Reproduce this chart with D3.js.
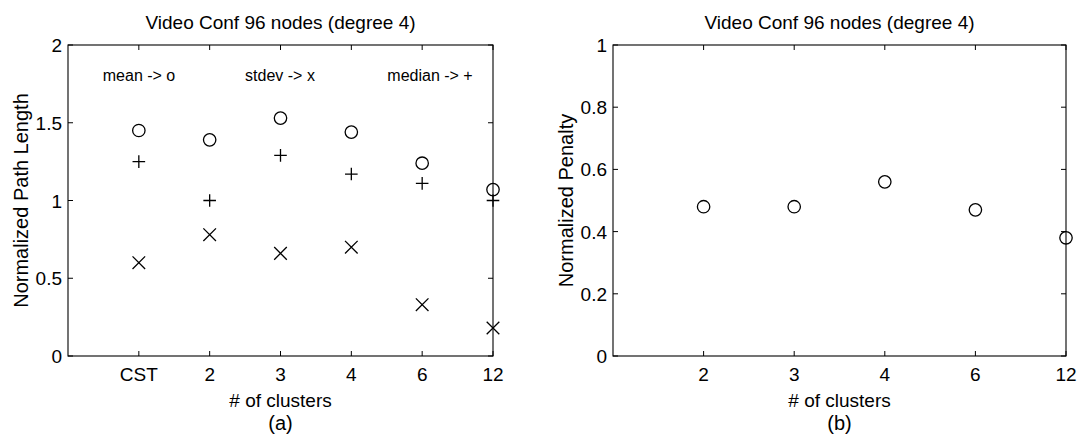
<!DOCTYPE html>
<html><head><meta charset="utf-8">
<script src="https://cdn.jsdelivr.net/npm/d3@7"></script>
<style>html,body{margin:0;padding:0;background:#fff;}svg{display:block;}text{font-family:"Liberation Sans",Arial,Helvetica,sans-serif;fill:#000;}</style>
</head><body>
<svg id="c" width="1082" height="436"></svg>
<script>
// ---- data ----
const categoriesA = ["CST", "2", "3", "4", "6", "12"];
const meanA   = [1.45, 1.39, 1.53, 1.44, 1.24, 1.07];
const medianA = [1.25, 1.00, 1.29, 1.17, 1.11, 1.00];
const stdevA  = [0.60, 0.78, 0.66, 0.70, 0.33, 0.18];
const yTicksA = [0, 0.5, 1, 1.5, 2];
const yTickLabelsA = ["0", "0.5", "1", "1.5", "2"];

const categoriesB = ["2", "3", "4", "6", "12"];
const penaltyB = [0.48, 0.48, 0.56, 0.47, 0.38];
const yTicksB = [0, 0.2, 0.4, 0.6, 0.8, 1];
const yTickLabelsB = ["0", "0.2", "0.4", "0.6", "0.8", "1"];

const titleText = "Video Conf 96 nodes (degree 4)";
const xLabelText = "# of clusters";
const annotations = ["mean -> o", "stdev -> x", "median -> +"];

// ---- drawing ----
const svg = d3.select("#c");

function txt(g, x, y, s, size, anchor, rot) {
  return g.append("text")
    .attr("transform", `translate(${x},${y}) rotate(${rot||0})`)
    .attr("font-size", size)
    .attr("text-anchor", anchor || "middle")
    .text(s);
}

function panel(opt) {
  const g = svg.append("g");
  const {left, right, top, bottom} = opt;
  const n = opt.categories.length;
  const x = d3.scaleLinear().domain([0, n]).range([left, right]);
  const y = d3.scaleLinear().domain(opt.yDomain).range([bottom, top]);
  const tl = 5;

  g.append("rect").attr("x", left).attr("y", top)
    .attr("width", right - left).attr("height", bottom - top)
    .attr("fill", "none").attr("stroke", "#000").attr("stroke-width", 1.1);

  opt.yTicks.forEach((v, i) => {
    const yy = y(v);
    g.append("line").attr("x1", left).attr("x2", left + tl).attr("y1", yy).attr("y2", yy).attr("stroke", "#000");
    g.append("line").attr("x1", right).attr("x2", right - tl).attr("y1", yy).attr("y2", yy).attr("stroke", "#000");
    txt(g, left - 6, yy + 7, opt.yTickLabels[i], 19, "end");
  });
  opt.categories.forEach((c, i) => {
    const xx = x(i + 1);
    g.append("line").attr("x1", xx).attr("x2", xx).attr("y1", bottom).attr("y2", bottom - tl).attr("stroke", "#000");
    g.append("line").attr("x1", xx).attr("x2", xx).attr("y1", top).attr("y2", top + tl).attr("stroke", "#000");
    txt(g, xx, 381, c, 19, "middle");
  });

  const cx = (left + right) / 2;
  txt(g, cx, 29, titleText, 19, "middle");
  txt(g, cx, 407, xLabelText, 19, "middle");
  txt(g, cx, 430, opt.tag, 20, "middle");
  txt(g, opt.ylabX, (top + bottom) / 2, opt.ylabel, 20, "middle", -90);

  return {g, x, y};
}

const A = panel({left: 68, right: 493, top: 45, bottom: 356, categories: categoriesA,
  yDomain: [0, 2], yTicks: yTicksA, yTickLabels: yTickLabelsA, tag: "(a)",
  ylabel: "Normalized Path Length", ylabX: 28});
const B = panel({left: 613, right: 1066, top: 45, bottom: 356, categories: categoriesB,
  yDomain: [0, 1], yTicks: yTicksB, yTickLabels: yTickLabelsB, tag: "(b)",
  ylabel: "Normalized Penalty", ylabX: 573});

function circles(P, vals) {
  P.g.selectAll(null).data(vals).enter().append("circle")
    .attr("cx", (d, i) => P.x(i + 1)).attr("cy", d => P.y(d)).attr("r", 6.2)
    .attr("stroke", "#000").attr("stroke-width", 1.3).attr("fill", "none");
}
function pluses(P, vals) {
  const s = 6.3;
  P.g.selectAll(null).data(vals).enter().append("path")
    .attr("d", (d, i) => { const X = P.x(i + 1), Y = P.y(d); return `M${X - s},${Y}H${X + s}M${X},${Y - s}V${Y + s}`; })
    .attr("stroke", "#000").attr("stroke-width", 1.3).attr("fill", "none");
}
function crosses(P, vals) {
  const s = 6.3;
  P.g.selectAll(null).data(vals).enter().append("path")
    .attr("d", (d, i) => { const X = P.x(i + 1), Y = P.y(d); return `M${X - s},${Y - s}L${X + s},${Y + s}M${X - s},${Y + s}L${X + s},${Y - s}`; })
    .attr("stroke", "#000").attr("stroke-width", 1.3).attr("fill", "none");
}
circles(A, meanA);
pluses(A, medianA);
crosses(A, stdevA);
circles(B, penaltyB);

const annX = [139, 280, 430];
annotations.forEach((s, i) => txt(A.g, annX[i], A.y(1.8) + 5, s, 16, "middle"));
</script>
</body></html>
